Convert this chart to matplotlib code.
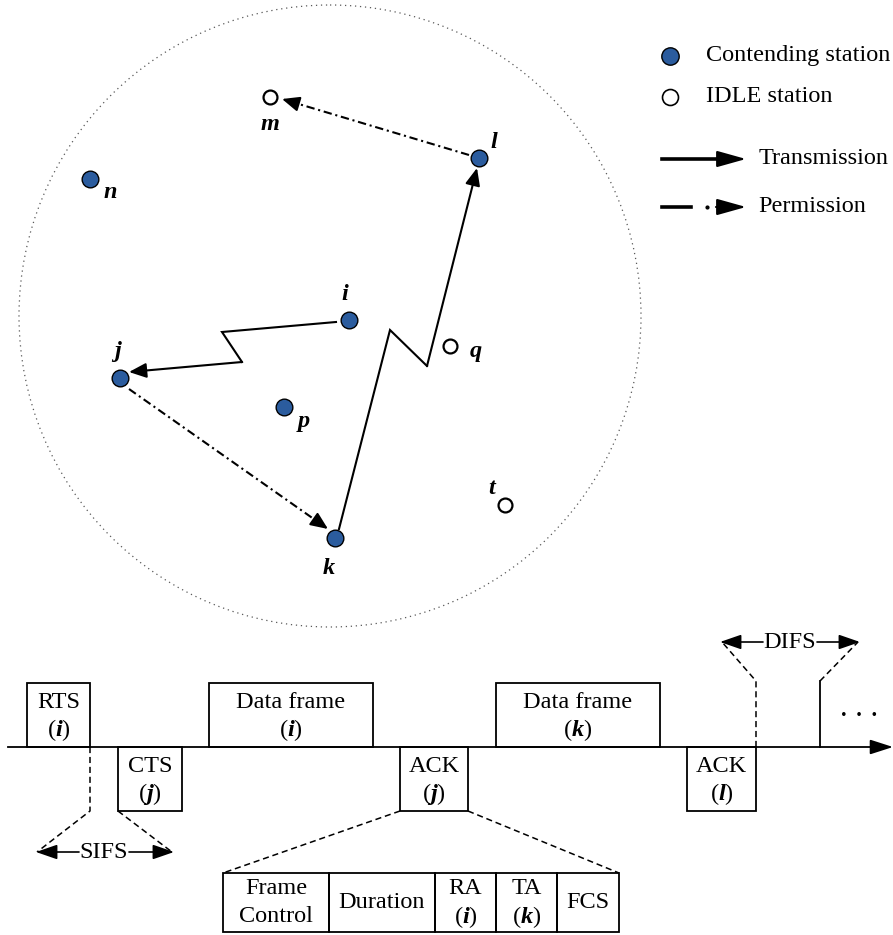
import matplotlib
matplotlib.use("Agg")
import matplotlib.pyplot as plt
from matplotlib.patches import Rectangle, Circle

plt.rcParams['font.family'] = ['Liberation Serif', 'DejaVu Serif']
plt.rcParams['mathtext.fontset'] = 'custom'
plt.rcParams['mathtext.rm'] = 'Liberation Serif'
plt.rcParams['mathtext.it'] = 'Liberation Serif:italic'
plt.rcParams['mathtext.bf'] = 'Liberation Serif:bold'
plt.rcParams['mathtext.bfit'] = 'Liberation Serif:italic:bold'

# ---- data: stations (pixel coordinates of the drawing) ----
st_names = ['m', 'l', 'n', 'i', 'q', 'j', 'p', 't', 'k']
st_x = [270, 479, 90, 349, 450, 120, 284, 505, 335]
st_y = [97, 158, 179, 320, 346, 378, 407, 505, 538]
st_contending = [False, True, True, True, False, True, True, False, True]
lab_x = [270, 494, 110, 345, 476, 118, 304, 492, 329]
lab_y = [124, 143, 192, 294, 352, 352, 421, 489, 569]

# transmissions (zigzag paths) and permissions
trans_paths = [
    [(336, 322), (222, 332), (242, 362), (129, 372)],   # i -> j
    [(339, 529), (390, 330), (427, 366), (477, 168)],   # k -> l
]
perm_paths = [
    [(129, 389), (328, 529)],   # j -> k
    [(469, 155), (282, 99)],    # l -> m
]

# ---- data: timeline frames ----
frame_top = ['RTS', 'CTS', 'Data frame', 'ACK', 'Data frame', 'ACK']
frame_who = ['i', 'j', 'i', 'j', 'k', 'l']
frame_x0 = [27, 118, 209, 400, 496, 687]
frame_x1 = [90, 182, 373, 468, 660, 756]
frame_up = [True, False, True, False, True, False]

# ACK sub-fields
field_labels = ['Frame\nControl', 'Duration', 'RA\n$(\\mathbfit{i})$', 'TA\n$(\\mathbfit{k})$', 'FCS']
field_edges = [223, 329, 435, 496, 557, 619]

BLUE = '#2b5c9e'
FS = 17.5

fig = plt.figure(figsize=(8.93, 9.35), dpi=100)
ax = fig.add_axes([0, 0, 1, 1])
ax.set_xlim(0, 893)
ax.set_ylim(935, 0)
ax.axis('off')


def head(tip, frm, scale=10, hl=1.2, hw=0.45, lw=1.4):
    ax.annotate('', xy=tip, xytext=frm,
                arrowprops=dict(arrowstyle=f'-|>,head_length={hl},head_width={hw}',
                                color='black', lw=lw, mutation_scale=scale,
                                shrinkA=0, shrinkB=0))


# coverage circle
ax.add_patch(Circle((330, 316), 311, fill=False, ls=(0, (1, 3)), lw=0.9, ec='0.35'))

# transmissions
for path in trans_paths:
    xs, ys = zip(*path)
    ax.plot(xs[:-1], ys[:-1], color='black', lw=1.5, solid_joinstyle='miter')
    head(path[-1], path[-2], hl=1.05, lw=1.5)

# permissions
for (x0, y0), (x1, y1) in perm_paths:
    dx, dy = x1 - x0, y1 - y0
    d = (dx ** 2 + dy ** 2) ** 0.5
    bx, by = x1 - dx / d * 12, y1 - dy / d * 12
    ax.plot([x0, bx], [y0, by], color='black', lw=1.5, ls=(0, (4, 1.8, 1, 1.8)))
    head((x1, y1), (bx - dx / d * 2, by - dy / d * 2), hl=1.05, lw=1.5)

# stations
for name, x, y, c, lx, ly in zip(st_names, st_x, st_y, st_contending, lab_x, lab_y):
    if c:
        ax.plot(x, y, 'o', ms=12, mfc=BLUE, mec='black', mew=1.0, zorder=5)
    else:
        ax.plot(x, y, 'o', ms=10, mfc='white', mec='black', mew=1.6, zorder=5)
    ax.text(lx, ly, name, fontsize=FS, fontstyle='italic', fontweight='bold',
            ha='center', va='center')

# legend
ax.plot(670, 56, 'o', ms=12.5, mfc=BLUE, mec='black', mew=1.0)
ax.text(706, 56, 'Contending station', fontsize=FS, va='center')
ax.plot(670, 97, 'o', ms=11.5, mfc='white', mec='black', mew=1.2)
ax.text(706, 97, 'IDLE station', fontsize=FS, va='center')
ax.plot([662, 722], [159, 159], color='black', lw=2.6)
head((746, 159), (716, 159), scale=12, hl=1.5, hw=0.42, lw=1.5)
ax.text(759, 159, 'Transmission', fontsize=FS, va='center')
ax.plot([662, 691], [207, 207], color='black', lw=2.6)
ax.plot(707, 207, 'o', ms=2, color='black')
head((746, 207), (716, 207), scale=12, hl=1.5, hw=0.42, lw=1.5)
ax.text(758, 207, 'Permission', fontsize=FS, va='center')

# timeline axis
AXY, TOP, BOT = 747, 683, 811
ax.plot([8, 880], [AXY, AXY], color='black', lw=1.3)
head((893, AXY), (878, AXY), scale=10, hl=1.4, hw=0.45, lw=1.3)

for top, who, x0, x1, up in zip(frame_top, frame_who, frame_x0, frame_x1, frame_up):
    y0 = TOP if up else AXY
    ax.add_patch(Rectangle((x0, y0), x1 - x0, 64, fill=False, ec='black', lw=1.3))
    xc = (x0 + x1) / 2
    ax.text(xc, y0 + 19, top, fontsize=FS, ha='center', va='center')
    ax.text(xc, y0 + 47, f'$(\\mathbfit{{{who}}})$', fontsize=FS, ha='center', va='center')

# SIFS
dash = dict(color='black', lw=1.1, ls=(0, (4, 2.5)))
ax.plot([90, 90, 37], [AXY, 811, 852], **dash)
ax.plot([118, 172], [811, 852], **dash)
ax.text(104, 852, 'SIFS', fontsize=FS, ha='center', va='center')
head((36, 852), (79, 852), scale=10, hl=1.3, hw=0.45, lw=1.2)
head((174, 852), (129, 852), scale=10, hl=1.3, hw=0.45, lw=1.2)

# DIFS
ax.plot([756, 756, 722], [AXY, 681, 642], **dash)
ax.plot([820, 820], [AXY, 681], color='black', lw=1.3)
ax.plot([820, 858], [681, 642], **dash)
ax.text(790, 642, 'DIFS', fontsize=FS, ha='center', va='center')
head((720, 642), (763, 642), scale=10, hl=1.3, hw=0.45, lw=1.2)
head((860, 642), (817, 642), scale=10, hl=1.3, hw=0.45, lw=1.2)
ax.text(859, 708, '. . .', fontsize=22, ha='center', va='center')

# ACK expansion
ax.plot([400, 223], [BOT, 873], **dash)
ax.plot([468, 619], [BOT, 873], **dash)
for lab, a, b in zip(field_labels, field_edges[:-1], field_edges[1:]):
    ax.add_patch(Rectangle((a, 873), b - a, 59, fill=False, ec='black', lw=1.3))
    xc = (a + b) / 2
    lines = lab.split('\n')
    if len(lines) == 1:
        ax.text(xc, 902, lines[0], fontsize=FS, ha='center', va='center')
    else:
        ax.text(xc, 888, lines[0], fontsize=FS, ha='center', va='center')
        ax.text(xc, 917, lines[1], fontsize=FS, ha='center', va='center')

fig.savefig('out.png', dpi=100)
